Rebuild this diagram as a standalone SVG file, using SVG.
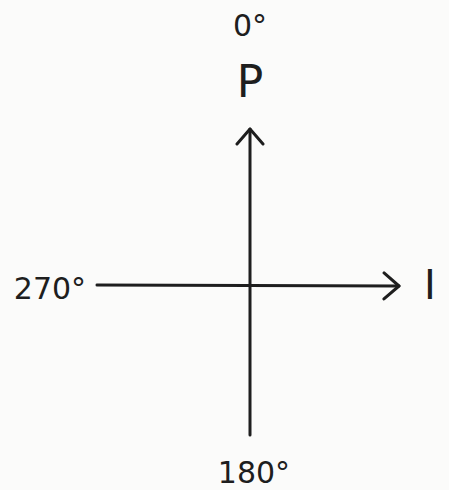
<svg xmlns="http://www.w3.org/2000/svg" width="449" height="490" viewBox="0 0 449 490">
<defs>
<style>
.lbl{font-family:"DejaVu Sans","Liberation Sans",sans-serif;fill:#1e1e1e;text-anchor:middle}
.ax{stroke:#1e1e1e;stroke-width:3;fill:none;stroke-linecap:round;stroke-linejoin:round}
</style>
<marker id="ah" viewBox="0 0 20 30" refX="17" refY="15" markerWidth="20" markerHeight="30" markerUnits="userSpaceOnUse" orient="auto">
<path d="M2,2 L17,15 L2,28" fill="none" stroke="#1e1e1e" stroke-width="3" stroke-linecap="round" stroke-linejoin="round"/>
</marker>
</defs>
<rect width="449" height="490" fill="#fbfbfa"/>
<g id="connectors">
<line class="ax" x1="250" y1="435" x2="250" y2="129" marker-end="url(#ah)"/>
<line class="ax" x1="97" y1="285" x2="399" y2="286" marker-end="url(#ah)"/>
</g>
<g id="label-0"><text class="lbl" x="250" y="36" font-size="30">0°</text></g>
<g id="label-P"><text class="lbl" x="250" y="97" font-size="44">P</text></g>
<g id="label-270"><text class="lbl" x="50" y="299" font-size="30">270°</text></g>
<g id="label-I"><text class="lbl" x="430" y="299" font-size="40">I</text></g>
<g id="label-180"><text class="lbl" x="254" y="483" font-size="30">180°</text></g>
</svg>
